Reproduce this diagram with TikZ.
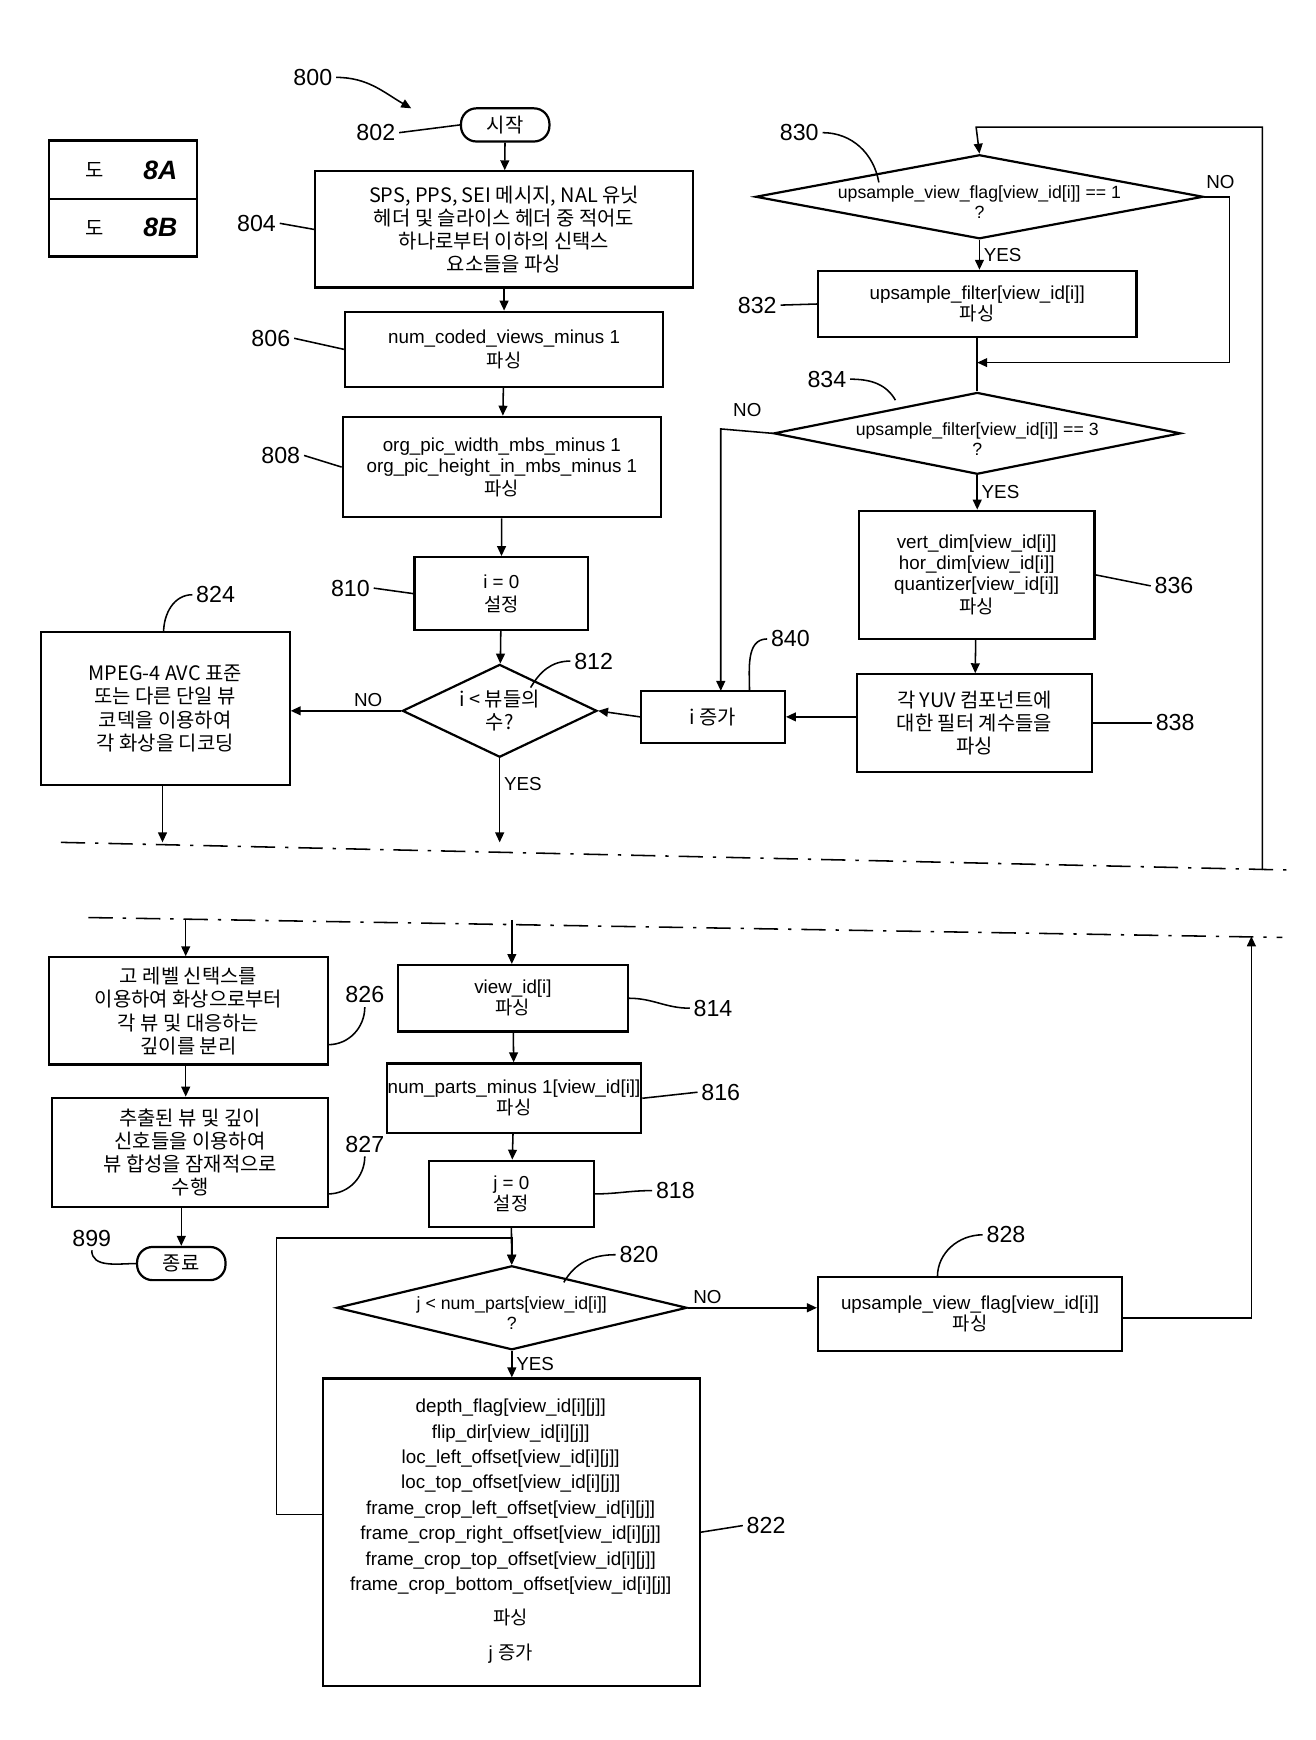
\documentclass[tikz,border=0pt]{standalone}
\usepackage{fontspec}
\setmainfont{Liberation Sans}
\newfontfamily\kr{Noto Sans CJK KR}
\usetikzlibrary{arrows.meta,shapes.geometric}
\begin{document}
\begin{tikzpicture}[x=1pt,y=-1pt,
  every node/.style={font=\fontsize{17}{19}\selectfont},
  box/.style={draw,line width=2pt,align=center,inner sep=0pt},
  dia/.style={draw,line width=2pt,diamond,aspect=4,inner sep=0pt,align=center},
  term/.style={draw,line width=2pt,rounded corners=14pt,minimum width=80pt,minimum height=30pt,font=\kr\fontsize{18}{20}\selectfont},
  ln/.style={line width=1.4pt},
  ar/.style={line width=1.4pt,-{Triangle[length=9pt,width=8pt]}},
  lab/.style={font=\fontsize{21}{23}\selectfont},
  kt/.style={font=\kr\fontsize{18}{21}\selectfont,align=center}]
\useasboundingbox (0,0) rectangle (1190,1574);
\fill[white] (0,0) rectangle (1190,1574);
\def\bx#1#2#3#4#5#6{\node[box,minimum width=#4-#2,minimum height=#5-#3,#6] (#1) at ({(#2+#4)/2},{(#3+#5)/2}) {};}
% legend
\draw[line width=2pt] (44,127) rectangle (178,232) (44,180) -- (178,180);
\node[kt] (l1) at (86,154) {도}; \node[font=\bfseries\itshape\fontsize{24}{26}\selectfont] (l1b) at (145,154) {8A};
\node[kt] (l2) at (86,206) {도}; \node[font=\bfseries\itshape\fontsize{24}{26}\selectfont] (l2b) at (145,206) {8B};
% top
\node[term] (start) at (457,113) {시작};
\node[lab] (L800) at (283,70) {800};
\draw[ar] (L800.east) to[out=0,in=150] (372,98);
\node[lab] (L802) at (340,120) {802};
\draw[ln] (L802.east) -- (start.west);
\bx{b804}{285}{155}{627}{260}{}
\node[kt] (t804) at (b804) {SPS, PPS, SEI 메시지, NAL 유닛\\헤더 및 슬라이스 헤더 중 적어도\\하나로부터 이하의 신택스\\요소들을 파싱};
\node[lab] (L804) at (232,202) {804}; \draw[ln] (L804.east) -- (b804.west);
\bx{b806}{312}{282}{600}{350}{}
\node[align=center] (t806) at (b806) {num\_coded\_views\_minus 1\\[2pt]{\kr 파싱}};
\node[lab] (L806) at (245,306) {806}; \draw[ln] (L806.east) -- (b806.west);
\bx{b808}{310}{377}{598}{468}{}
\node[align=center] (t808) at (b808) {org\_pic\_width\_mbs\_minus 1\\org\_pic\_height\_in\_mbs\_minus 1\\[2pt]{\kr 파싱}};
\node[lab] (L808) at (254,412) {808}; \draw[ln] (L808.east) -- (b808.west);
\bx{b810}{375}{504}{532}{570}{}
\node[align=center] (t810) at (b810) {i = 0\\[2pt]{\kr 설정}};
\node[lab] (L810) at (317,532) {810}; \draw[ln] (L810.east) -- (b810.west);
\node[dia,minimum width=176pt,minimum height=84pt] (d812) at (452,643) {};
\node[kt] (t812) at (452,643) {i < 뷰들의\\수?};
\node[lab] (L812) at (537,598) {812}; \draw[ln] (L812.west) to[out=180,in=60] (480,622);
\bx{b824}{37}{572}{262}{710}{}
\node[kt] (t824) at (b824) {MPEG-4 AVC 표준\\또는 다른 단일 뷰\\코덱을 이용하여\\각 화상을 디코딩};
\node[lab] (L824) at (195,538) {824}; \draw[ln] (L824.west) to[out=180,in=90] (148,572);
\draw[ar] (start) -- (b804); \draw[ar] (b804) -- (b806); \draw[ar] (b806) -- (b808);
\draw[ar] (b808) -- (b810); \draw[ar] (b810) -- (d812);
\draw[ar] (d812.west) -- (b824.east |- d812.west) node[pos=0.3,above] (no1) {NO};
\coordinate (c1) at (452,762); \draw[ar] (d812.south) -- (c1) node[pos=0.3,right] (yes1) {YES};
\coordinate (c2) at (147,762); \draw[ar] (b824.south -| c2) -- (c2);
\draw[ln,dash pattern=on 22pt off 9pt on 3pt off 9pt] (55,762) -- (1165,787);
% right column
\node[dia,minimum width=405pt,minimum height=76pt] (d830) at (886,178) {};
\node[align=center,font=\fontsize{16}{18}\selectfont] (t830) at (886,183) {upsample\_view\_flag[view\_id[i]] == 1\\?};
\node[lab] (L830) at (723,120) {830}; \draw[ln] (L830.east) to[out=0,in=100] (795,165);
\node (no2) at (1104,165) {NO};
\bx{b832}{740}{245}{1028}{305}{}
\node[align=center] (t832) at (b832) {upsample\_filter[view\_id[i]]\\{\kr 파싱}};
\node[lab] (L832) at (685,276) {832}; \draw[ln] (L832.east) -- (b832.west);
\draw[ar] (d830.south) -- (d830.south |- b832.north) node[midway,right] (yes2) {YES};
\node[dia,minimum width=368pt,minimum height=74pt] (d834) at (884,392) {};
\node[align=center,font=\fontsize{16}{18}\selectfont] (t834) at (884,397) {upsample\_filter[view\_id[i]] == 3\\?};
\node[lab] (L834) at (748,343) {834}; \draw[ln] (L834.east) to[out=0,in=120] (810,362);
\coordinate (m1) at (884,328);
\draw[ln] (b832.south -| m1) -- (d834.north);
\draw[ar] (d830.east) -- (1112,178) -- (1112,328) -- (m1);
\coordinate (top1) at (1142,787);
\draw[ar] (top1) -- (1142,115) -- (883,115) -- (d830.north);
\bx{b836}{777}{462}{990}{578}{}
\node[align=center] (t836) at (b836) {vert\_dim[view\_id[i]]\\hor\_dim[view\_id[i]]\\quantizer[view\_id[i]]\\[2pt]{\kr 파싱}};
\node[lab] (L836) at (1062,530) {836}; \draw[ln] (L836.west) -- (b836.east);
\draw[ar] (d834.south) -- (d834.south |- b836.north) node[midway,right] (yes3) {YES};
\bx{b838}{775}{610}{988}{698}{}
\node[kt] (t838) at (b838) {각 YUV 컴포넌트에\\대한 필터 계수들을\\파싱};
\node[lab] (L838) at (1063,654) {838}; \draw[ln] (L838.west) -- (b838.east);
\draw[ar] (b836) -- (b838);
\bx{b840}{580}{625}{710}{672}{}
\node[kt] (t840) at (b840) {i 증가};
\node[lab] (L840) at (715,578) {840}; \draw[ln] (L840.west) to[out=180,in=90] (678,625);
\draw[ar] (b838.west |- b840) -- (b840.east);
\draw[ar] (b840.west) -- (d812.east);
\draw[ar] (d834.west) -- (652,388) -- (652,625);
\node (no3) at (676,371) {NO};
% bottom sheet
\draw[ln,dash pattern=on 22pt off 9pt on 3pt off 9pt] (80,830) -- (1160,848);
\bx{b826}{44}{866}{297}{963}{}
\node[kt] (t826) at (b826) {고 레벨 신택스를\\이용하여 화상으로부터\\각 뷰 및 대응하는\\깊이를 분리};
\node[lab] (L826) at (330,900) {826}; \draw[ln] (L826.south) to[out=-90,in=0] (297,945);
\bx{b827}{47}{993}{297}{1092}{}
\node[kt] (t827) at (b827) {추출된 뷰 및 깊이\\신호들을 이용하여\\뷰 합성을 잠재적으로\\수행};
\node[lab] (L827) at (330,1035) {827}; \draw[ln] (L827.south) to[out=-90,in=0] (297,1080);
\node[term] (end) at (164,1143) {종료};
\node[lab] (L899) at (83,1120) {899}; \draw[ln] (L899.south) to[out=-90,in=180] (end.west);
\coordinate (c3) at (168,832); \draw[ar] (c3) -- (c3 |- b826.north);
\draw[ar] (b826.south -| c3) -- (c3 |- b827.north);
\draw[ar] (b827.south -| 164,0) -- (end.north);
\bx{b814}{360}{873}{568}{933}{}
\node[align=center] (t814) at (b814) {view\_id[i]\\{\kr 파싱}};
\node[lab] (L814) at (645,912) {814}; \draw[ln] (L814.west) to[out=180,in=0] (b814.east);
\coordinate (c4) at (463,832); \draw[ar] (c4) -- (c4 |- b814.north);
\bx{b816}{350}{962}{580}{1025}{}
\node[align=center] (t816) at (b816) {num\_parts\_minus 1[view\_id[i]]\\{\kr 파싱}};
\node[lab] (L816) at (652,988) {816}; \draw[ln] (L816.west) -- (b816.east);
\bx{b818}{388}{1050}{537}{1110}{}
\node[align=center] (t818) at (b818) {j = 0\\{\kr 설정}};
\node[lab] (L818) at (611,1077) {818}; \draw[ln] (L818.west) to[out=180,in=0] (b818.east);
\draw[ar] (b814) -- (b816); \draw[ar] (b816) -- (b818);
\node[dia,minimum width=317pt,minimum height=76pt] (d820) at (463,1183) {};
\node[align=center,font=\fontsize{16}{18}\selectfont] (t820) at (463,1188) {j < num\_parts[view\_id[i]]\\?};
\node[lab] (L820) at (578,1135) {820}; \draw[ln] (L820.west) to[out=180,in=60] (510,1160);
\draw[ar] (b818) -- (d820);
\bx{b822}{292}{1247}{633}{1525}{}
\node[align=center,font=\fontsize{17}{23}\selectfont] (t822) at (462,1385) {depth\_flag[view\_id[i][j]]\\flip\_dir[view\_id[i][j]]\\loc\_left\_offset[view\_id[i][j]]\\loc\_top\_offset[view\_id[i][j]]\\frame\_crop\_left\_offset[view\_id[i][j]]\\frame\_crop\_right\_offset[view\_id[i][j]]\\frame\_crop\_top\_offset[view\_id[i][j]]\\frame\_crop\_bottom\_offset[view\_id[i][j]]\\[8pt]{\kr 파싱}\\[8pt]j {\kr 증가}};
\node[lab] (L822) at (693,1380) {822}; \draw[ln] (L822.west) -- (b822.east);
\draw[ar] (d820.south) -- (d820.south |- b822.north) node[midway,right] (yes4) {YES};
\coordinate (m2) at (463,1120);
\draw[ar] (b822.west |- 0,1370) -- (250,1370) -- (250,1120) -- (m2) -- (d820.north);
\bx{b828}{740}{1155}{1015}{1222}{}
\node[align=center] (t828) at (b828) {upsample\_view\_flag[view\_id[i]]\\{\kr 파싱}};
\node[lab] (L828) at (910,1117) {828}; \draw[ln] (L828.west) to[out=180,in=90] (848,1155);
\draw[ar] (d820.east) -- (b828.west |- d820.east) node[pos=0.15,above] (no4) {NO};
\coordinate (c5) at (1132,847);
\draw[ar] (b828.east |- 0,1192) -- (1132,1192) -- (c5);
\end{tikzpicture}
\end{document}
